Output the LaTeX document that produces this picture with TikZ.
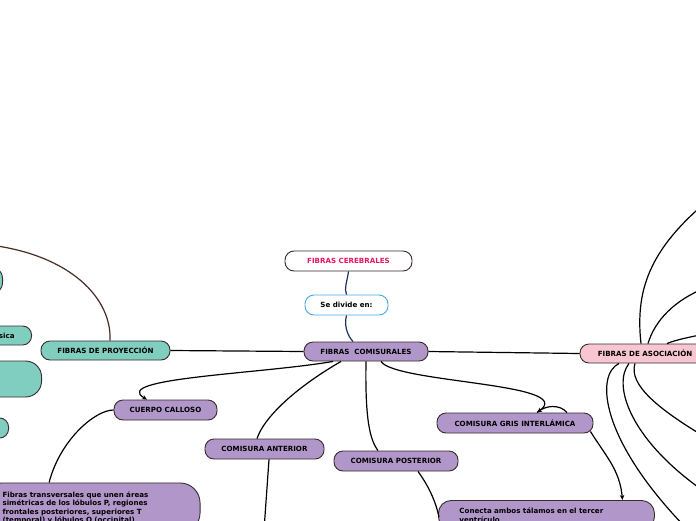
\documentclass[tikz,border=0pt]{standalone}
\usepackage{fontspec}
\setmainfont{DejaVu Sans}
\usetikzlibrary{arrows.meta,calc}
\definecolor{purp}{RGB}{177,150,201}
\definecolor{teal1}{RGB}{128,206,192}
\definecolor{pinkf}{RGB}{248,198,210}
\definecolor{pinkt}{RGB}{230,22,96}
\definecolor{blueb}{RGB}{70,170,225}
\definecolor{navy}{RGB}{30,50,100}
\definecolor{brownl}{RGB}{70,45,35}
\definecolor{bord}{RGB}{55,45,45}
\begin{document}
\begin{tikzpicture}[x=1pt,y=-1pt,
  box/.style={draw=bord, line width=0.9pt, rounded corners=9pt, inner sep=0pt,
    minimum height=20pt, font=\fontsize{7.1}{8.6}\selectfont\bfseries, text=black},
  pnode/.style={box, fill=purp},
  tnode/.style={box, fill=teal1},
  link/.style={line width=1.2pt, black},
  arr/.style={link, -{Stealth[length=5pt,width=4.5pt]}},
]
\useasboundingbox (0,0) rectangle (696,520);
\clip (0,0) rectangle (696,520);
\fill[white] (0,0) rectangle (696,520);

% main nodes
\node[box, fill=white, text=pinkt, minimum width=127pt] (cer) at (348.5,261) {FIBRAS CEREBRALES};
\node[box, fill=white, draw=blueb, minimum width=83pt] (sed) at (346.5,305) {Se divide en:};
\node[pnode, minimum width=124pt, minimum height=19pt] (com) at (366,351.5) {FIBRAS\ \ COMISURALES};
\node[tnode, minimum width=129pt, minimum height=19pt] (pro) at (105.5,350.5) {FIBRAS DE PROYECCIÓN};
\node[box, fill=pinkf, minimum width=130pt, minimum height=19pt] (aso) at (645,353.5) {FIBRAS DE ASOCIACIÓN};
\node[pnode, minimum width=103pt] (cc) at (165.5,410) {CUERPO CALLOSO};
\node[pnode, minimum width=119pt] (ant) at (264.5,449) {COMISURA ANTERIOR};
\node[pnode, minimum width=124pt] (pos) at (396,461) {COMISURA POSTERIOR};
\node[pnode, minimum width=156pt] (gris) at (515,423) {COMISURA GRIS INTERLÁMICA};
\node[pnode, anchor=north west, align=left, text width=174pt, inner xsep=21pt,
  inner ysep=7.5pt, rounded corners=13pt] (con) at (438,500)
  {Conecta ambos tálamos en el tercer\\ventrículo};
\node[pnode, anchor=north east, align=left, text width=176.5pt, inner xsep=21pt,
  inner ysep=8.5pt, rounded corners=20pt] (fib) at (200.5,482.5)
  {Fibras transversales que unen áreas\\simétricas de los lóbulos P, regiones\\frontales posteriores, superiores T\\(temporal) y lóbulos O (occipital)};

% left partial teal nodes
\node[tnode, anchor=east, minimum width=70pt, minimum height=31pt, rounded corners=14pt] (t1) at (3,280.5) {};
\node[tnode, anchor=east, align=right, text width=50pt, inner xsep=17pt, minimum height=19pt] (t2) at (32,335.5) {sica};
\node[tnode, anchor=east, minimum width=90pt, minimum height=36pt, rounded corners=16pt] (t3) at (42,379) {};
\node[tnode, anchor=east, minimum width=60pt, minimum height=20pt] (t4) at (9,428) {};

% connectors
\coordinate (offtl) at (-10,245);
\coordinate (offant) at (264,530);
\coordinate (u1e) at (705,203);
\coordinate (u2e) at (705,288);
\coordinate (u3e) at (705,334);
\coordinate (d1e) at (688,530);
\coordinate (d2e) at (705,492);
\coordinate (d3e) at (705,437);

\draw[line width=1.2pt, navy] (cer.south) .. controls (347,282) and (344,288) .. (sed.north);
\draw[line width=1.2pt, navy] (sed.south) .. controls (344,325) and (347,335) .. ($(com.north)+(-13,0)$);
\draw[line width=1.2pt, brownl] ($(pro.north)+(4.5,0)$) .. controls (112,298) and (70,255) .. (offtl);

\draw[link] (com.west) -- (pro.east);
\draw[link] (com.east) -- (aso.west);

\draw[arr] ($(com.south)+(-33,0)$) .. controls (260,374) and (110,378) .. ($(cc.north)+(-18.5,0)$);
\draw[link] ($(com.south)+(-25,0)$) .. controls (300,385) and (265,415) .. ($(ant.north)+(-7.5,0)$);
\draw[link] (com.south) .. controls (365,420) and (370,440) .. ($(pos.north)+(-18,0)$);
\draw[arr] ($(com.south)+(15,0)$) .. controls (395,383) and (578,383) .. ($(gris.north)+(22,0)$);
\draw[link] ($(gris.north)+(52,0)$) .. controls (560,404) and (545,405) .. ($(gris.north)+(22,0)$);
\draw[arr] ($(gris.south east)+(-3,-2)$) .. controls (605,455) and (620,470) .. ($(con.north)+(76,0)$);
\draw[link] ($(pos.south)+(22,0)$) .. controls (430,488) and (436,503) .. ($(con.north west)+(1,17)$);
\draw[link] (cc.west) .. controls (95,410) and (60,440) .. ($(fib.north west)+(68,0)$);
\draw[link] ($(ant.south)+(4.5,0)$) -- (offant);

\draw[link] ($(aso.north)+(-4,0)$) .. controls (635,290) and (650,250) .. (u1e);
\draw[link] ($(aso.north)+(3,0)$) .. controls (655,320) and (675,300) .. (u2e);
\draw[link] ($(aso.north)+(22,0)$) .. controls (675,340) and (690,337) .. (u3e);
\draw[link] ($(aso.south)+(-26,0)$) .. controls (595,375) and (600,440) .. (d1e);
\draw[link] ($(aso.south)+(-16,0)$) .. controls (612,385) and (630,440) .. (d2e);
\draw[link] ($(aso.south)+(-10,0)$) .. controls (628,385) and (660,410) .. (d3e);
\end{tikzpicture}
\end{document}
